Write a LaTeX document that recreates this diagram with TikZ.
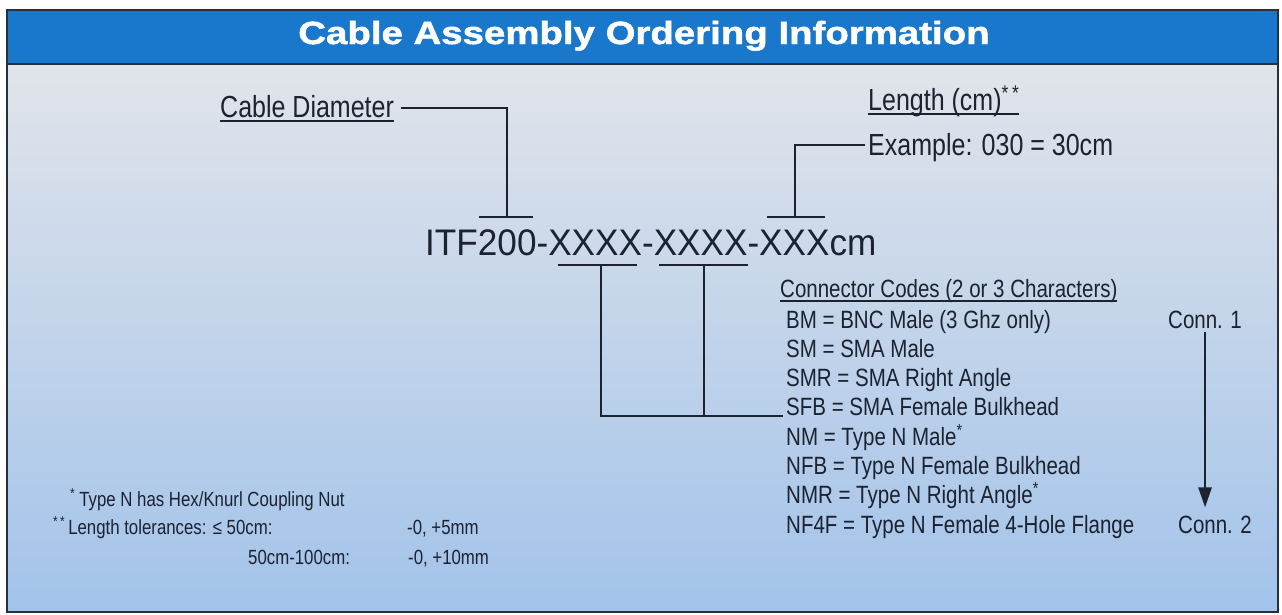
\documentclass[tikz,border=0pt]{standalone}
\usepackage{fontspec}
\setmainfont{Liberation Sans}[FakeStretch=0.82]
\newfontfamily\codefont{Liberation Sans}[FakeStretch=0.95]
\newfontfamily\titlefont{Liberation Sans}[FakeStretch=1.2,BoldFeatures={FakeBold=1.5}]
\usetikzlibrary{arrows.meta}
\definecolor{hdrblue}{HTML}{1A78CC}
\definecolor{rim}{HTML}{26303F}
\definecolor{ink}{HTML}{1C2230}
\definecolor{paletop}{HTML}{E1E4EA}
\definecolor{palebot}{HTML}{A2C3EA}
\newsavebox\ulsave
\newcommand\undl[1]{\sbox\ulsave{#1}\rlap{\rule[-4.7pt]{\wd\ulsave}{1.4pt}}\usebox\ulsave}
\begin{document}
\begin{tikzpicture}[x=1pt,y=-1pt,
  lead/.style={draw=ink,line width=2.8pt},
  txt/.style={anchor=base west,inner sep=0pt,text=ink},
  big/.style={font=\fontsize{30.5}{32}\selectfont},
  mid/.style={font=\fontsize{25}{27}\selectfont},
  small/.style={font=\fontsize{20.5}{22}\selectfont}]
  \useasboundingbox (0,0) rectangle (1282,614);
  % panel and header
  \shade[top color=paletop,bottom color=palebot] (7,64) rectangle (1278,612);
  \fill[hdrblue] (7,10) rectangle (1278,64);
  \draw[rim,line width=1.5pt] (7,10) rectangle (1278,612);
  \draw[rim,line width=1.5pt] (7,64) -- (1278,64);
  \node[anchor=base,inner sep=0pt,text=white,font=\titlefont\bfseries\fontsize{32}{34}\selectfont] (title) at (644,44) {Cable Assembly Ordering Information};
  % part number and its fields
  \node[txt,font=\codefont\fontsize{37}{40}\selectfont] (part) at (425,255) {ITF200-XXXX-XXXX-XXXcm};
  \node[txt,big] (diam) at (220,117) {\undl{Cable Diameter}};
  \node[txt,big] (len) at (868,110) {\undl{Length (cm)\textsuperscript{*\,*}}};
  \node[txt,big] (ex) at (868,155) {Example: 030 = 30cm};
  \coordinate (diaTee) at (507,217);
  \coordinate (lenTee) at (795,217);
  \coordinate (oneTee) at (601,265);
  \coordinate (twoTee) at (704,265);
  \draw[lead] ([xshift=7pt,yshift=9pt]diam.base east) -| (diaTee);
  \draw[lead] ([xshift=-28pt]diaTee) -- ([xshift=26pt]diaTee);
  \draw[lead] ([xshift=-3pt,yshift=10pt]ex.base west) -| (lenTee);
  \draw[lead] ([xshift=-28pt]lenTee) -- ([xshift=30pt]lenTee);
  % connector codes
  \node[txt,mid] (codes) at (780,297) {\undl{Connector Codes (2 or 3 Characters)}};
  \node[txt,mid] (bm) at (786,328) {BM = BNC Male (3 Ghz only)};
  \node[txt,mid] (sm) at (786,357.3) {SM = SMA Male};
  \node[txt,mid] (smr) at (786,386.6) {SMR = SMA Right Angle};
  \node[txt,mid] (sfb) at (786,415.9) {SFB = SMA Female Bulkhead};
  \node[txt,mid] (nm) at (786,445.2) {NM = Type N Male\textsuperscript{*}};
  \node[txt,mid] (nfb) at (786,474.5) {NFB = Type N Female Bulkhead};
  \node[txt,mid] (nmr) at (786,503.8) {NMR = Type N Right Angle\textsuperscript{*}};
  \node[txt,mid] (nf4f) at (786,533) {NF4F = Type N Female 4-Hole Flange};
  \draw[lead] ([xshift=-43pt]oneTee) -- ([xshift=36pt]oneTee);
  \draw[lead] ([xshift=-45pt]twoTee) -- ([xshift=44pt]twoTee);
  \draw[lead] (oneTee) |- ([xshift=-3pt]sfb.base west);
  \draw[lead] (twoTee) -- (twoTee |- sfb.base west);
  \node[txt,mid] (conna) at (1168,328) {Conn. 1};
  \node[txt,mid] (connb) at (1178,533) {Conn. 2};
  \draw[lead,-{Triangle[length=20pt,width=13pt]},shorten <=4pt,shorten >=8pt]
    (conna.south) -- (conna.south |- connb.north);
  % footnotes
  \node[txt,small] (noteA) at (70,506) {\textsuperscript{*}\hspace{4pt}Type N has Hex/Knurl Coupling Nut};
  \node[txt,small] (noteB) at (53,534) {\textsuperscript{*\,*}\hspace{3pt}Length tolerances: ≤ 50cm:};
  \node[txt,small] (tolA) at (407,534) {-0, +5mm};
  \node[txt,small] (rangeB) at (248,564) {50cm-100cm:};
  \node[txt,small] (tolB) at (408,564) {-0, +10mm};
\end{tikzpicture}
\end{document}
